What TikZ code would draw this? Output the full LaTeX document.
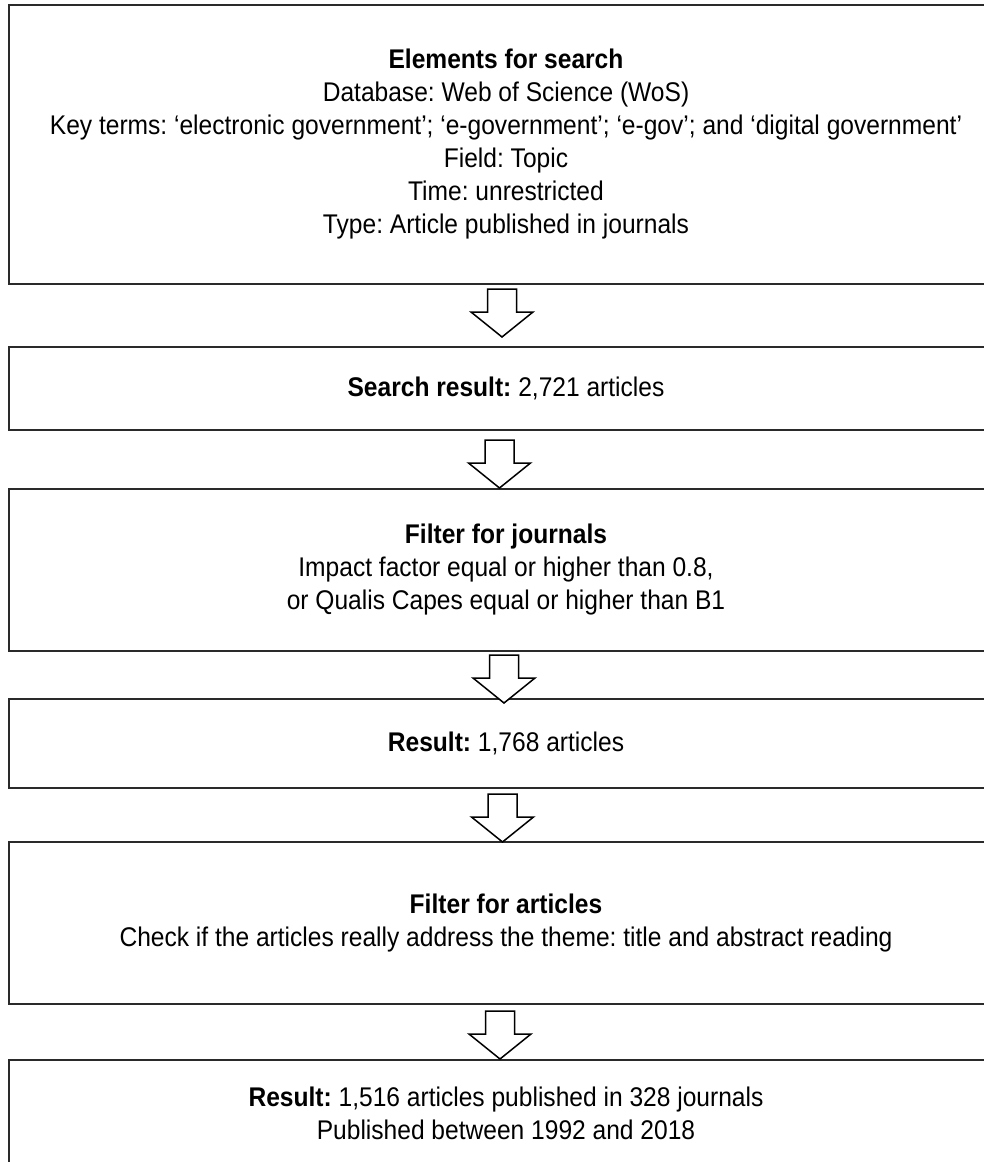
\documentclass[tikz,border=0pt]{standalone}
\usepackage{fontspec}
\setmainfont{Liberation Sans}[FakeStretch=0.91]
\begin{document}
\frenchspacing
\begin{tikzpicture}[x=1pt,y=1pt,
  box/.style={draw=boxcol, line width=2pt, minimum width=994pt, inner sep=0pt,
    align=center, font=\fontsize{27}{33}\selectfont\frenchspacing},
  blk/.style={draw=black, line width=1.5pt, fill=white, line join=miter}]
\definecolor{boxcol}{HTML}{2A2A2A}
\useasboundingbox (0,0) rectangle (984,-1162);
\clip (0,0) rectangle (984,-1162);
\fill[white] (0,0) rectangle (984,-1162);
% boxes
\node[box, minimum height=279pt] (b1) at (506,-144.5) {\textbf{Elements for search}\\
  Database: Web of Science (WoS)\\
  Key terms: ‘electronic government’; ‘e-government’; ‘e-gov’; and ‘digital government’\\
  Field: Topic\\
  Time: unrestricted\\
  Type: Article published in journals};
\node[box, minimum height=83pt] (b2) at (506,-388.5) {\textbf{Search result:} 2,721 articles};
\node[box, minimum height=162pt] (b3) at (506,-570) {\textbf{Filter for journals}\\
  Impact factor equal or higher than 0.8,\\
  or Qualis Capes equal or higher than B1};
\node[box, minimum height=89pt] (b4) at (506,-743.5) {\textbf{Result:} 1,768 articles};
\node[box, minimum height=162pt] (b5) at (506,-923) {\textbf{Filter for articles}\\
  Check if the articles really address the theme: title and abstract reading};
\node[box, minimum height=106pt] (b6) at (506,-1113) {\textbf{Result:} 1,516 articles published in 328 journals\\
  Published between 1992 and 2018};
% block arrows
\coordinate (a1) at (502,-289);
\coordinate (a2) at (499.5,-440);
\coordinate (a3) at (504,-655);
\coordinate (a4) at (502.5,-794);
\coordinate (a5) at (500,-1011);
\foreach \a in {a1,a2,a3,a4,a5}{
  \draw[blk] (\a) ++(-14.5,0) -- ++(29,0) -- ++(0,-23) -- ++(16.5,0) -- ++(-31,-25)
    -- ++(-31,25) -- ++(16.5,0) -- cycle;
}
\end{tikzpicture}
\end{document}
